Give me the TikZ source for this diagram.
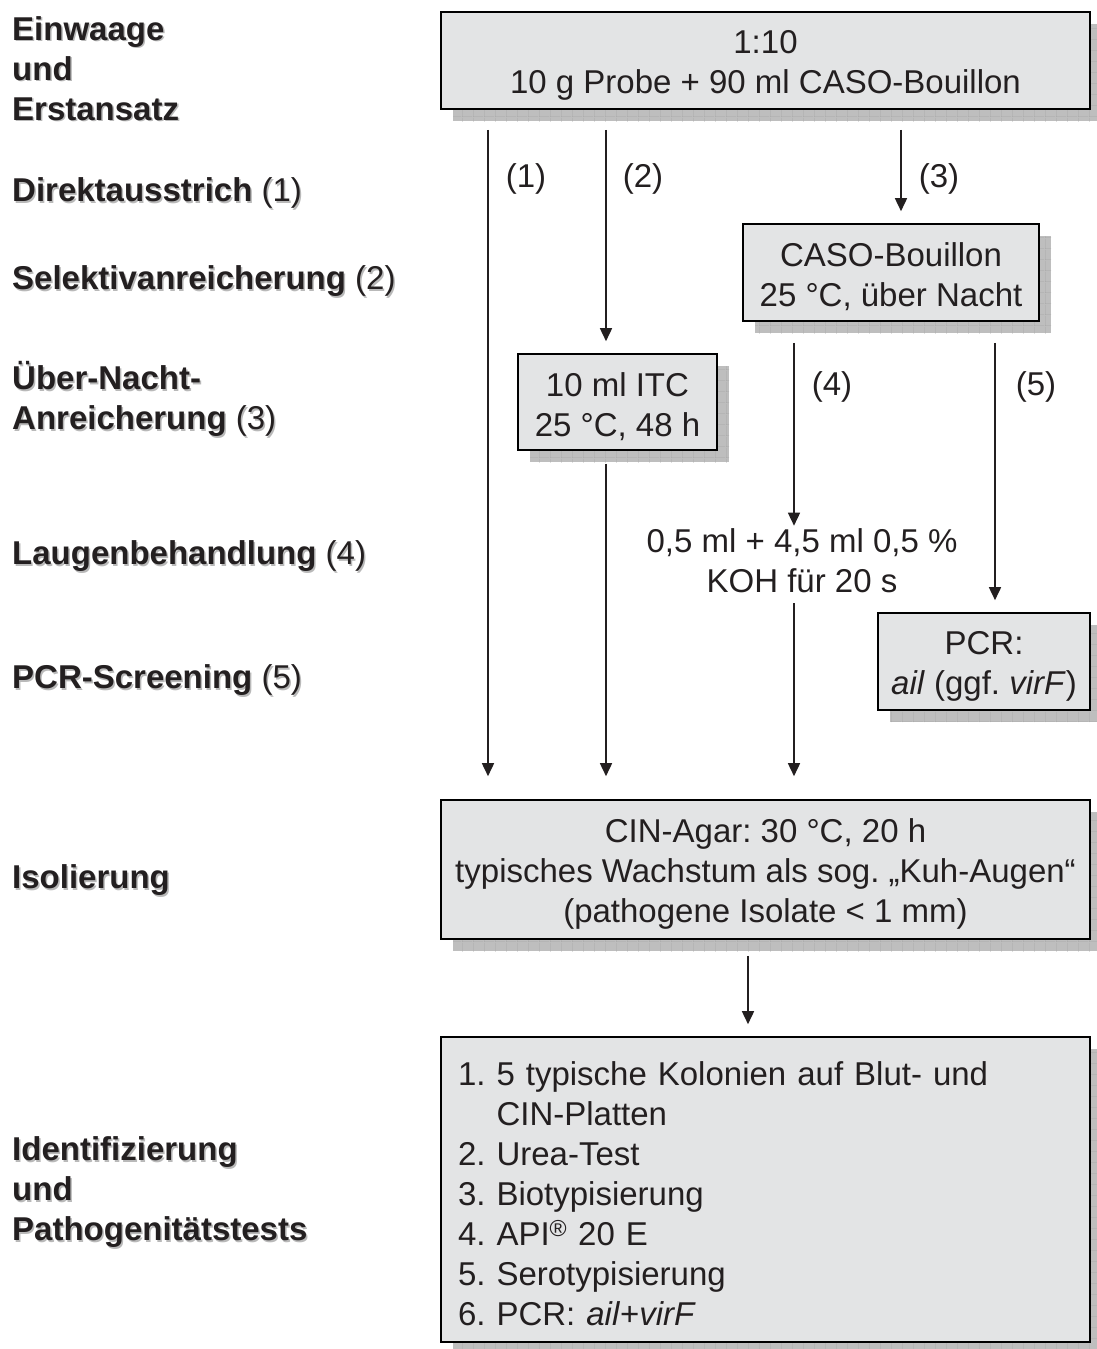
\documentclass[tikz,border=0pt]{standalone}
\usepackage{fontspec}
\setmainfont{Liberation Sans}
\usepackage{xcolor}
\usepackage{tikz}
\usetikzlibrary{shapes, positioning, arrows.meta, shadows, patterns}

\definecolor{boxfill}{RGB}{227,228,229}
\definecolor{shadefill}{RGB}{190,190,190}
\definecolor{shadegrid}{RGB}{165,165,165}
\definecolor{ink}{RGB}{35,31,32}

\pgfdeclarepatternformonly{shadegrid}{\pgfpointorigin}{\pgfpoint{11pt}{11pt}}{\pgfpoint{11pt}{11pt}}%
{\pgfsetlinewidth{0.7pt}\pgfpathmoveto{\pgfpointorigin}\pgfpathlineto{\pgfpoint{11pt}{0pt}}%
\pgfpathmoveto{\pgfpointorigin}\pgfpathlineto{\pgfpoint{0pt}{11pt}}\pgfusepath{stroke}}

\newcommand{\shtext}[1]{\makebox[0pt][l]{\hspace{1.5pt}\raisebox{-1.5pt}{\textcolor{gray!55}{#1}}}#1}
\newcommand{\topstrut}{\rule{0pt}{33pt}}
\frenchspacing

\begin{document}
\begin{tikzpicture}[x=1pt, y=-1pt, font=\fontsize{33}{40}\selectfont, text=ink]
\tikzstyle{stepbox}=[draw=black, line width=1.6pt, fill=boxfill, align=center, inner sep=0pt,
  general shadow={shadow xshift=12pt, shadow yshift=-12pt, fill=shadefill,
  postaction={pattern=shadegrid, pattern color=shadegrid}}]
\tikzstyle{arr}=[-{Triangle[width=12pt,length=13pt]}, line width=1.6pt, draw=ink]
\tikzstyle{lbl}=[anchor=west, align=left, inner sep=0pt]
\useasboundingbox (0,0) rectangle (1097,1349);

% left column
\node[lbl] (einwaage) at (12,69) {\shtext{\textbf{Einwaage}}\\\shtext{\textbf{und}}\\\shtext{\textbf{Erstansatz}}};
\node[lbl] (direkt) at (12,194) {\shtext{\textbf{Direktausstrich} (1)}};
\node[lbl] (selektiv) at (12,282) {\shtext{\textbf{Selektivanreicherung} (2)}};
\node[lbl] (nacht) at (12,400) {\shtext{\textbf{Über-Nacht-}}\\\shtext{\textbf{Anreicherung} (3)}};
\node[lbl] (lauge) at (12,557) {\shtext{\textbf{Laugenbehandlung} (4)}};
\node[lbl] (screen) at (12,681) {\shtext{\textbf{PCR-Screening} (5)}};
\node[lbl] (isol) at (12,881) {\shtext{\textbf{Isolierung}}};
\node[lbl] (ident) at (12,1193) {\shtext{\textbf{Identifizierung}}\\\shtext{\textbf{und}}\\\shtext{\textbf{Pathogenitätstests}}};

% boxes
\node[stepbox, minimum width=649pt, minimum height=97pt] (top) at (765.5,60.5) {\topstrut1:10\\10 g Probe + 90 ml CASO-Bouillon};
\node[stepbox, minimum width=296pt, minimum height=97pt] (caso) at (891,272.5) {\topstrut CASO-Bouillon\\25 °C, über Nacht};
\node[stepbox, minimum width=199pt, minimum height=96pt] (itc) at (617.5,402) {\topstrut10 ml ITC\\25 °C, 48 h};
\node[align=center, inner sep=0pt] (koh) at (802,561) {0,5 ml + 4,5 ml 0,5 \%\\KOH für 20 s};
\node[stepbox, minimum width=212pt, minimum height=97pt] (pcr) at (984,661.5) {\topstrut PCR:\\\textit{ail} (ggf. \textit{virF})};
\node[stepbox, minimum width=649pt, minimum height=139pt] (cin) at (765.5,869.5) {\topstrut CIN-Agar: 30 °C, 20 h\\typisches Wachstum als sog. „Kuh-Augen“\\(pathogene Isolate < 1 mm)};
\node[stepbox, minimum width=649pt, minimum height=305pt, text width=615pt, inner xsep=17pt, align=left] (tests) at (765.5,1189.5)
  {\topstrut1. 5 typische Kolonien auf Blut- und\\\hphantom{1. }CIN-Platten\\2. Urea-Test\\3. Biotypisierung\\4. API\textsuperscript{\textregistered} 20 E\\5. Serotypisierung\\6. PCR: \textit{ail}+\textit{virF}};

% connectors
\coordinate (c1) at (488,0);
\coordinate (c2) at (606,0);
\coordinate (c3) at (901,0);
\coordinate (c4) at (794,0);
\coordinate (c5) at (995,0);
\coordinate (c6) at (748,0);
\draw[arr, shorten <=20pt, shorten >=23pt] (top.south -| c1) -- (cin.north -| c1);
\draw[arr, shorten <=20pt, shorten >=12pt] (top.south -| c2) -- (itc.north -| c2);
\draw[arr, shorten <=13pt, shorten >=23pt] (itc.south -| c2) -- (cin.north -| c2);
\draw[arr, shorten <=20pt, shorten >=12pt] (top.south -| c3) -- (caso.north -| c3);
\draw[arr, shorten <=21pt, shorten >=3pt] (caso.south -| c4) -- (koh.north -| c4);
\draw[arr, shorten <=10pt, shorten >=23pt] (koh.south -| c4) -- (cin.north -| c4);
\draw[arr, shorten <=21pt, shorten >=12pt] (caso.south -| c5) -- (pcr.north -| c5);
\draw[arr, shorten <=16pt, shorten >=12pt] (cin.south -| c6) -- (tests.north -| c6);

% path numbers
\node (n1) at (526,179) {(1)};
\node (n2) at (643,179) {(2)};
\node (n3) at (939,179) {(3)};
\node (n4) at (832,387) {(4)};
\node (n5) at (1036,387) {(5)};
\end{tikzpicture}
\end{document}
